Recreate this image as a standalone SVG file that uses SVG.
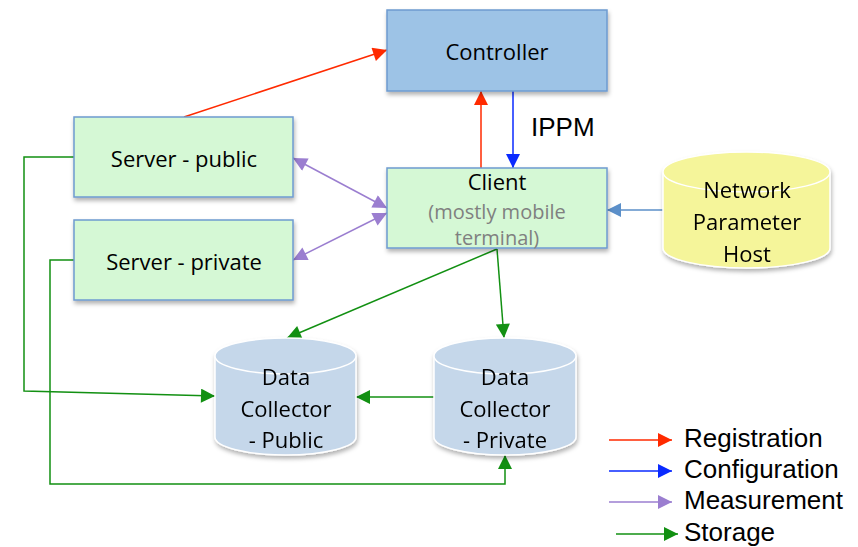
<svg xmlns="http://www.w3.org/2000/svg" width="858" height="547" viewBox="0 0 858 547">
<defs>
<filter id="sh" x="-10%" y="-10%" width="130%" height="140%"><feDropShadow dx="1" dy="3" stdDeviation="2" flood-color="#000" flood-opacity="0.3"/></filter>
<marker id="aR" viewBox="0 0 10 10" refX="10" refY="5" markerWidth="16" markerHeight="14" orient="auto" markerUnits="userSpaceOnUse"><path d="M0,0 L10,5 L0,10 z" fill="#ff2a00"/></marker>
<marker id="aB" viewBox="0 0 10 10" refX="10" refY="5" markerWidth="16" markerHeight="14" orient="auto" markerUnits="userSpaceOnUse"><path d="M0,0 L10,5 L0,10 z" fill="#0a2aff"/></marker>
<marker id="aP" viewBox="0 0 10 10" refX="10" refY="5" markerWidth="16" markerHeight="14" orient="auto-start-reverse" markerUnits="userSpaceOnUse"><path d="M0,0 L10,5 L0,10 z" fill="#9b7ed0"/></marker>
<marker id="aG" viewBox="0 0 10 10" refX="10" refY="5" markerWidth="16" markerHeight="14" orient="auto" markerUnits="userSpaceOnUse"><path d="M0,0 L10,5 L0,10 z" fill="#129012"/></marker>
<marker id="aS" viewBox="0 0 10 10" refX="10" refY="5" markerWidth="16" markerHeight="14" orient="auto" markerUnits="userSpaceOnUse"><path d="M0,0 L10,5 L0,10 z" fill="#5b8fc9"/></marker>
</defs>
<style>
.box{fill:#d5f8d5;stroke:#6e9bd0;stroke-width:1.5;filter:url(#sh)}
.ctl{fill:#9dc3e6;stroke:#6e9bd0;stroke-width:1.5;filter:url(#sh)}
.t{font-family:"Open Sans","Noto Sans",sans-serif;font-size:22px;fill:#000;text-anchor:middle}
.g{fill:#808080;font-size:20px}
.lg{font-family:"Liberation Sans",sans-serif;font-size:26px;fill:#000}
.red{stroke:#ff2a00;stroke-width:1.5;fill:none;marker-end:url(#aR)}
.blue{stroke:#0a2aff;stroke-width:1.5;fill:none;marker-end:url(#aB)}
.pur{stroke:#9b7ed0;stroke-width:1.5;fill:none;marker-end:url(#aP);marker-start:url(#aP)}
.grn{stroke:#129012;stroke-width:1.5;fill:none;marker-end:url(#aG)}
.stl{stroke:#5b8fc9;stroke-width:1.5;fill:none;marker-end:url(#aS)}
.dc{fill:#c5d7ea;stroke:#fff;stroke-width:1.5}
.nph{fill:#f5f59a;stroke:#fff;stroke-width:1.5}
</style>

<g id="connectors">
<path class="red" d="M184,117 L387,50"/>
<path class="red" d="M481,168 L481,91"/>
<path class="blue" d="M513,88 L513,168"/>
<path class="pur" d="M293,158 L387,208"/>
<path class="pur" d="M293,260 L387,213"/>
<path class="stl" d="M663,210 L607,210"/>
<path class="grn" d="M497,249 L287,338"/>
<path class="grn" d="M497,249 L504,338"/>
<path class="grn" d="M434,397 L356,397"/>
<path class="grn" d="M74,157 L24,157 L24,391 L215,396"/>
<path class="grn" d="M74,260 L50,260 L50,484 L505,484 L505,455"/>
</g>

<g id="controller">
<rect class="ctl" x="387" y="10" width="220" height="81"/>
<text class="t" x="497" y="60">Controller</text>
</g>
<text id="ippm" class="lg" x="531" y="136">IPPM</text>

<g id="server-public">
<rect class="box" x="74" y="117" width="219" height="80"/>
<text class="t" x="184" y="167">Server - public</text>
</g>
<g id="server-private">
<rect class="box" x="74" y="220" width="219" height="80"/>
<text class="t" x="184" y="270">Server - private</text>
</g>
<g id="client">
<rect class="box" x="387" y="168" width="220" height="80"/>
<text class="t" x="497" y="190">Client</text>
<text class="t g" x="497" y="219">(mostly mobile</text>
<text class="t g" x="497" y="245">terminal)</text>
</g>
<g id="network-parameter-host" filter="url(#sh)">
<path class="nph" d="M663,172 L663,248 A83.5,20 0 0 0 830,248 L830,172 A83.5,20 0 0 0 663,172 Z"/>
<path class="nph" d="M663,172 A83.5,20 0 0 0 830,172" fill="none"/>
<text class="t" x="747" y="198">Network</text>
<text class="t" x="747" y="230">Parameter</text>
<text class="t" x="747" y="262">Host</text>
</g>
<g id="dc-public" filter="url(#sh)">
<path class="dc" d="M215,356 L215,437 A70.5,18 0 0 0 356,437 L356,356 A70.5,18 0 0 0 215,356 Z"/>
<path class="dc" d="M215,356 A70.5,18 0 0 0 356,356" fill="none"/>
<text class="t" x="286" y="385">Data</text>
<text class="t" x="286" y="417">Collector</text>
<text class="t" x="286" y="448">- Public</text>
</g>
<g id="dc-private" filter="url(#sh)">
<path class="dc" d="M434,356 L434,437 A71,18 0 0 0 576,437 L576,356 A71,18 0 0 0 434,356 Z"/>
<path class="dc" d="M434,356 A71,18 0 0 0 576,356" fill="none"/>
<text class="t" x="505" y="385">Data</text>
<text class="t" x="505" y="417">Collector</text>
<text class="t" x="505" y="448">- Private</text>
</g>

<g id="legend">
<path d="M609,440 L672,440" stroke="#ff2a00" stroke-width="1.5" marker-end="url(#aR)"/>
<path d="M609,471 L672,471" stroke="#0a2aff" stroke-width="1.5" marker-end="url(#aB)"/>
<path d="M609,502 L672,502" stroke="#9b7ed0" stroke-width="1.5" marker-end="url(#aP)"/>
<path d="M616,534 L678,534" stroke="#129012" stroke-width="1.5" marker-end="url(#aG)"/>
<text class="lg" x="684" y="447">Registration</text>
<text class="lg" x="684" y="478">Configuration</text>
<text class="lg" x="684" y="509">Measurement</text>
<text class="lg" x="684" y="541">Storage</text>
</g>
</svg>
